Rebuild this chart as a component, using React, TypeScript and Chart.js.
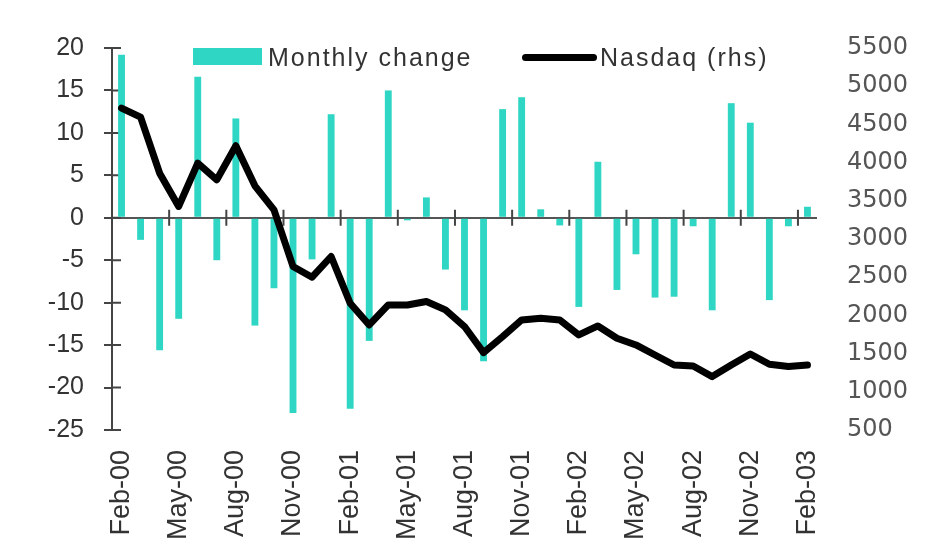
import React, { useEffect, useRef } from 'react';
import { Chart, registerables } from 'chart.js';

Chart.register(...registerables);

// Categories (monthly, Feb-00 .. Feb-03)
const months = [
  'Feb-00', 'Mar-00', 'Apr-00', 'May-00', 'Jun-00', 'Jul-00', 'Aug-00', 'Sep-00', 'Oct-00', 'Nov-00', 'Dec-00', 'Jan-01',
  'Feb-01', 'Mar-01', 'Apr-01', 'May-01', 'Jun-01', 'Jul-01', 'Aug-01', 'Sep-01', 'Oct-01', 'Nov-01', 'Dec-01', 'Jan-02',
  'Feb-02', 'Mar-02', 'Apr-02', 'May-02', 'Jun-02', 'Jul-02', 'Aug-02', 'Sep-02', 'Oct-02', 'Nov-02', 'Dec-02', 'Jan-03',
  'Feb-03',
];

// Monthly change (%), left axis
const monthlyChange = [
  19.2, -2.6, -15.6, -11.9, 16.6, -5.0, 11.7, -12.7, -8.3, -23.0, -4.9, 12.2,
  -22.5, -14.5, 15.0, -0.3, 2.4, -6.1, -10.9, -16.9, 12.8, 14.2, 1.0, -0.9,
  -10.5, 6.6, -8.5, -4.3, -9.4, -9.3, -1.0, -10.9, 13.5, 11.2, -9.7, -1.0,
  1.3,
];

// Nasdaq index level, right axis
const nasdaq = [
  4714, 4596, 3862, 3426, 3993, 3775, 4220, 3696, 3382, 2640, 2500, 2771,
  2159, 1875, 2137, 2137, 2181, 2072, 1854, 1513, 1722, 1941, 1963, 1941,
  1744, 1862, 1701, 1613, 1482, 1351, 1338, 1199, 1351, 1495, 1360, 1330,
  1351,
];

// Axis ranges / tick steps
const leftAxis = [-25, 20, 5];
const rightAxis = [500, 5500, 500];
const labelEvery = 3;

const seriesNames = ['Monthly change', 'Nasdaq (rhs)'];

const ARIAL = "'Liberation Sans', Arial, Helvetica, sans-serif";
const TEAL = '#2FD6C3';
const AXIS = '#444';

const crossTicks = {
  id: 'crossTicks',
  beforeDatasetsDraw(chart: any) {
    const { ctx, chartArea, scales } = chart;
    const y = scales.y;
    const x = scales.x;
    ctx.save();
    ctx.strokeStyle = AXIS;
    ctx.lineWidth = 2;
    ctx.beginPath();
    y.ticks.forEach((t: any) => {
      const py = y.getPixelForValue(t.value);
      ctx.moveTo(chartArea.left, py);
      ctx.lineTo(chartArea.left + 9, py);
    });
    const y0 = y.getPixelForValue(0);
    const half = (x.getPixelForValue(1) - x.getPixelForValue(0)) / 2;
    for (let i = labelEvery; i < months.length; i += labelEvery) {
      const px = x.getPixelForValue(i) - half;
      ctx.moveTo(px, y0 - 8);
      ctx.lineTo(px, y0 + 8);
    }
    ctx.stroke();
    ctx.restore();
  },
};

export default function App() {
  const ref = useRef<HTMLCanvasElement | null>(null);

  useEffect(() => {
    if (!ref.current) return;
    const chart = new Chart(ref.current, {
      type: 'bar',
      data: {
        labels: months,
        datasets: [
          {
            type: 'line',
            label: seriesNames[1],
            data: nasdaq,
            yAxisID: 'y1',
            borderColor: '#000',
            backgroundColor: '#000',
            borderWidth: 7,
            pointRadius: 0,
            tension: 0,
            borderJoinStyle: 'round',
            borderCapStyle: 'round',
            order: 0,
          } as any,
          {
            type: 'bar',
            label: seriesNames[0],
            data: monthlyChange,
            yAxisID: 'y',
            backgroundColor: TEAL,
            borderWidth: 0,
            categoryPercentage: 1,
            barPercentage: 0.36,
            order: 1,
          } as any,
        ],
      },
      options: {
        responsive: false,
        maintainAspectRatio: false,
        animation: false,
        layout: { padding: { top: 48, left: 0, right: 0, bottom: 0 } },
        plugins: {
          legend: { display: false },
          tooltip: { enabled: false },
        },
        scales: {
          x: {
            type: 'category',
            offset: true,
            grid: { display: false, drawTicks: false },
            border: { display: false },
            ticks: {
              autoSkip: false,
              minRotation: 90,
              maxRotation: 90,
              padding: 20,
              color: '#333',
              font: { family: ARIAL, size: 27 },
              callback: (_v: any, i: number) => (i % labelEvery === 0 ? months[i] : ''),
            },
            afterFit: (s: any) => {
              s.height = 121;
            },
          },
          y: {
            position: 'left',
            min: leftAxis[0],
            max: leftAxis[1],
            ticks: {
              stepSize: leftAxis[2],
              padding: 20,
              color: '#333',
              font: { family: ARIAL, size: 25 },
            },
            grid: {
              color: (c: any) => (c.tick && c.tick.value === 0 ? '#555' : 'rgba(0,0,0,0)'),
              lineWidth: 2,
              tickColor: AXIS,
              tickLength: 8,
              drawTicks: true,
            },
            border: { display: true, color: AXIS, width: 2 },
            afterFit: (s: any) => {
              s.width = 112;
            },
          },
          y1: {
            position: 'right',
            min: rightAxis[0],
            max: rightAxis[1],
            ticks: {
              stepSize: rightAxis[2],
              padding: 30,
              color: '#555',
              font: { family: "'DejaVu Sans', 'Liberation Sans', sans-serif", size: 24 },
              callback: (v: any) => String(v),
            },
            grid: { display: false, drawTicks: false },
            border: { display: false },
            afterFit: (s: any) => {
              s.width = 130;
            },
          },
        },
      } as any,
      plugins: [crossTicks],
    });
    return () => chart.destroy();
  }, []);

  const textStyle: React.CSSProperties = {
    position: 'absolute',
    top: 45,
    fontFamily: ARIAL,
    fontSize: 25,
    lineHeight: '25px',
    letterSpacing: '2px',
    color: '#333',
    whiteSpace: 'nowrap',
  };

  return (
    <div style={{ position: 'absolute', left: 0, top: 0, width: 947, height: 551, background: '#fff' }}>
      <canvas ref={ref} width={947} height={551} style={{ display: 'block', width: 947, height: 551 }} />
      <div style={{ position: 'absolute', left: 193, top: 48, width: 69, height: 17, background: TEAL }} />
      <div style={{ ...textStyle, left: 268 }}>{seriesNames[0]}</div>
      <div style={{ position: 'absolute', left: 522, top: 54, width: 75, height: 7, background: '#000', borderRadius: 4 }} />
      <div style={{ ...textStyle, left: 600 }}>{seriesNames[1]}</div>
    </div>
  );
}
